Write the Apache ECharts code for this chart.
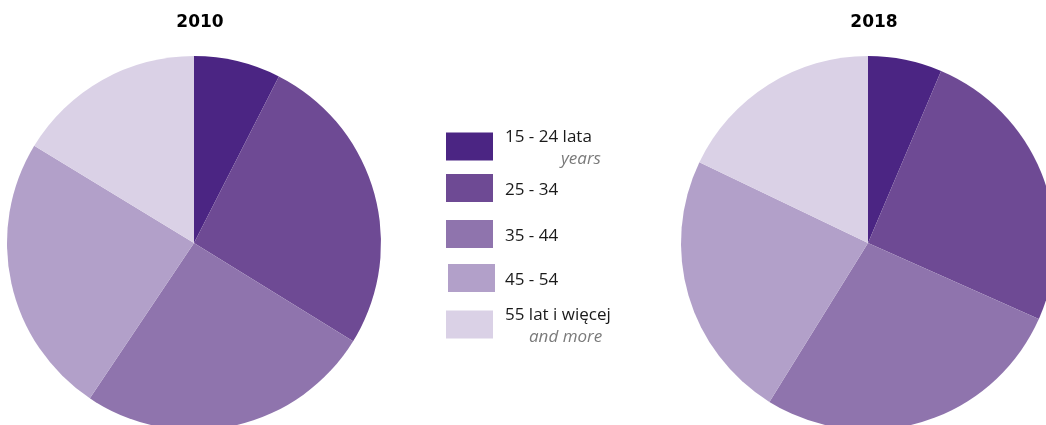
<!DOCTYPE html>
<html>
<head>
<meta charset="utf-8">
<script src="https://cdn.jsdelivr.net/npm/echarts@6/dist/echarts.min.js"></script>
<style>
  html, body { margin: 0; padding: 0; background: #fff; }
  #chart { width: 1046px; height: 425px; }
</style>
</head>
<body>
<div id="chart"></div>
<script>
const categories = ['15 - 24 lata', '25 - 34', '35 - 44', '45 - 54', '55 lat i więcej'];
const subLabels = ['years', '', '', '', 'and more'];
const years = ['2010', '2018'];
const values2010 = [7.5, 26.3, 25.6, 24.3, 16.3];
const values2018 = [6.4, 25.3, 27.2, 23.3, 17.9];

const COLORS = ['#4b2583', '#6e4a94', '#8f74ad', '#b2a0c9', '#dad1e6'];
const FONT = '"Open Sans", "Noto Sans", sans-serif';
// top of each legend swatch, the two-line ones sit a bit higher
const LEGEND_TOPS = [129, 174, 220, 264, 307];
const LEGEND_LEFTS = [446, 446, 446, 448, 446];

const chart = echarts.init(document.getElementById('chart'));

function pieData(values) {
    return categories.map((name, i) => ({
        name: name,
        value: values[i],
        itemStyle: { color: COLORS[i] },
    }));
}

function legendLabel(name) {
    const i = categories.indexOf(name);
    const sub = subLabels[i];
    if (!sub) return (i === 3 ? '{m3|' : '{m|') + name + '}';
    return '{a|' + name + '}\n{s' + i + '|' + sub + '}';
}

const richStyles = {
    a: { fontFamily: FONT, fontSize: 17, color: '#1a1a1a', lineHeight: 26, padding: [0, 0, 0, 7] },
    m: { fontFamily: FONT, fontSize: 17, color: '#1a1a1a', padding: [4, 0, 0, 7] },
    m3: { fontFamily: FONT, fontSize: 17, color: '#1a1a1a', padding: [4, 0, 0, 5] },
    s0: { fontFamily: FONT, fontSize: 17, fontStyle: 'italic', color: '#7a7a7a', lineHeight: 18, padding: [0, 0, 0, 63] },
    s4: { fontFamily: FONT, fontSize: 17, fontStyle: 'italic', color: '#7a7a7a', lineHeight: 18, padding: [0, 0, 0, 31] },
};

const legends = categories.map((name, i) => ({
    orient: 'vertical',
    left: LEGEND_LEFTS[i],
    top: LEGEND_TOPS[i],
    padding: 0,
    icon: 'rect',
    itemWidth: 47,
    itemHeight: 28,
    selectedMode: false,
    data: [name],
    formatter: legendLabel,
    textStyle: { fontFamily: FONT, rich: richStyles },
}));

const titleStyle = { fontFamily: '"DejaVu Sans", sans-serif', fontSize: 17, fontWeight: 'bold', color: '#000' };

const option = {
    animation: false,
    color: COLORS,
    title: [
        { text: years[0], left: 195, top: 9, textAlign: 'center', textStyle: titleStyle },
        { text: years[1], left: 869, top: 9, textAlign: 'center', textStyle: titleStyle },
    ],
    legend: legends,
    series: [
        {
            name: years[0],
            type: 'pie',
            center: [194, 243],
            radius: 187,
            startAngle: 90,
            label: { show: false },
            labelLine: { show: false },
            emphasis: { disabled: true },
            itemStyle: { borderWidth: 0 },
            data: pieData(values2010),
        },
        {
            name: years[1],
            type: 'pie',
            center: [868, 243],
            radius: 187,
            startAngle: 90,
            label: { show: false },
            labelLine: { show: false },
            emphasis: { disabled: true },
            itemStyle: { borderWidth: 0 },
            data: pieData(values2018),
        },
    ],
};

chart.setOption(option);
</script>
</body>
</html>
